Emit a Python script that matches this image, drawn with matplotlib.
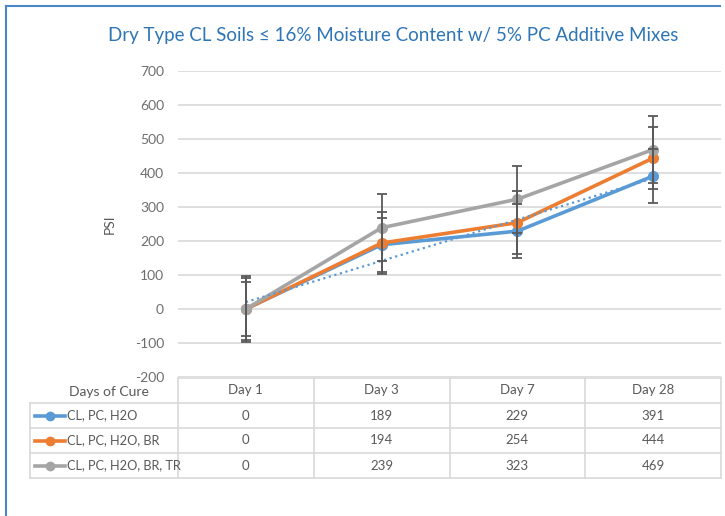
import numpy as np
import matplotlib
matplotlib.use("Agg")
import matplotlib.pyplot as plt
from matplotlib.lines import Line2D
from matplotlib.transforms import blended_transform_factory

# data
days = ["Day 1", "Day 3", "Day 7", "Day 28"]
series_names = ["CL, PC, H2O", "CL, PC, H2O, BR", "CL, PC, H2O, BR, TR"]
psi_h2o = [0, 189, 229, 391]
psi_br = [0, 194, 254, 444]
psi_tr = [0, 239, 323, 469]
err_bars = [80, 92, 98]   # estimated error bar half-length for each series
y_ticks = list(range(-200, 701, 100))

colors = ["#5B9BD5", "#ED7D31", "#A5A5A5"]
plt.rcParams['font.family'] = ['Lato', 'DejaVu Sans']
plt.rcParams['axes.unicode_minus'] = False

W, H = 725, 516
fig = plt.figure(figsize=(W / 100, H / 100), dpi=100)

def fx(px):
    return px / W

def fy(py):
    return 1 - py / H

# plot area in pixel terms
left, right, top, bottom = 178, 721, 71, 377
ax = fig.add_axes([fx(left), fy(bottom), fx(right - left), fy(top) - fy(bottom)])

x = np.arange(len(days))
all_series = [psi_h2o, psi_br, psi_tr]

for vals, c in zip(all_series, colors):
    ax.plot(x, vals, color=c, lw=2.6, marker='o', ms=7, zorder=3,
            solid_capstyle='round')

# linear trend line for the first series
k, b = np.polyfit(x, psi_h2o, 1)
ax.plot(x, k * x + b, color=colors[0], lw=1.6, ls=(0, (1, 1.6)), zorder=4)

for vals, e in zip(all_series, err_bars):
    ax.errorbar(x, vals, yerr=e, fmt='none', ecolor='#595959', elinewidth=1.3,
                capsize=3.5, capthick=1.3, zorder=5)

ax.set_xlim(-0.5, len(days) - 0.5)
ax.set_ylim(-200, 700)
ax.set_yticks(y_ticks)
ax.set_xticks([])
ax.yaxis.grid(True, color='#D9D9D9', lw=1.2)
ax.set_axisbelow(True)
for s in ax.spines.values():
    s.set_visible(False)
ax.tick_params(axis='y', length=0, pad=10, labelsize=10, labelcolor='#6E6E6E')
ax.set_ylabel("PSI", fontsize=10, color='#595959', labelpad=14)

# title and outer border
fig.text(fx(393), fy(36), "Dry Type CL Soils \u2264 16% Moisture Content w/ 5% PC Additive Mixes",
         ha='center', va='center', fontsize=13.5, color='#2E75B6')
border = '#4A86C8'
fig.add_artist(Line2D([fx(6), fx(720)], [fy(6), fy(6)], color=border, lw=1.5))
fig.add_artist(Line2D([fx(6), fx(6)], [fy(6), fy(516)], color=border, lw=1.5))

# data table beneath the plot
grid_c = '#D9D9D9'
tab_left = 30
row_lines = [378, 403, 428, 453, 478]
col_edges = [left + (right - left) * i / len(days) for i in range(len(days) + 1)]

def hline(y, x0, x1):
    fig.add_artist(Line2D([fx(x0), fx(x1)], [fy(y), fy(y)], color=grid_c, lw=1.2))

def vline(xp, y0, y1):
    fig.add_artist(Line2D([fx(xp), fx(xp)], [fy(y0), fy(y1)], color=grid_c, lw=1.2))

hline(row_lines[0], left, right)
for y in row_lines[1:]:
    hline(y, tab_left, right)
for xe in col_edges:
    vline(xe, row_lines[0], row_lines[-1])
vline(tab_left, row_lines[1], row_lines[-1])

trans = blended_transform_factory(ax.transData, fig.transFigure)
txt_c = '#595959'
for i, d in enumerate(days):
    ax.text(i, fy((row_lines[0] + row_lines[1]) / 2), d, transform=trans,
            ha='center', va='center', fontsize=9.5, color=txt_c)
fig.text(fx(109), fy(392), "Days of Cure", ha='center', va='center',
         fontsize=10, color=txt_c)

for r, (name, vals, c) in enumerate(zip(series_names, all_series, colors)):
    yc = fy((row_lines[r + 1] + row_lines[r + 2]) / 2)
    fig.add_artist(Line2D([fx(35), fx(65)], [yc, yc], color=c, lw=2.6))
    fig.add_artist(Line2D([fx(50)], [yc], color=c, marker='o', ms=6))
    fig.text(fx(67), yc, name, ha='left', va='center', fontsize=9.2, color=txt_c)
    for i, v in enumerate(vals):
        ax.text(i, yc, str(v), transform=trans, ha='center', va='center',
                fontsize=9.5, color=txt_c)

fig.savefig("out.png", dpi=100)
